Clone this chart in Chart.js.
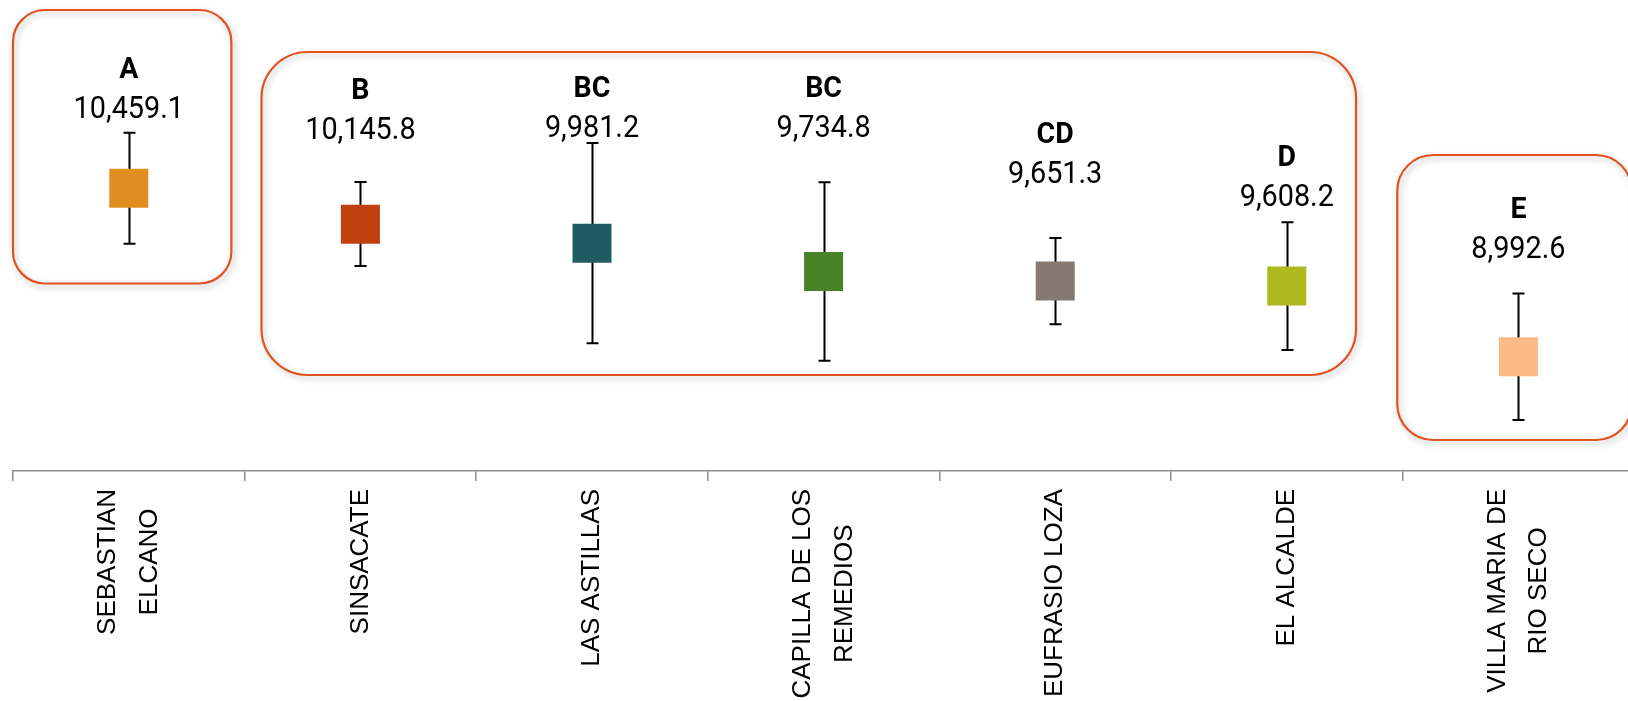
<!DOCTYPE html>
<html>
<head>
<meta charset="utf-8">
<script src="https://cdn.jsdelivr.net/npm/chart.js@4.4.1/dist/chart.umd.min.js"></script>
<style>
  html, body { margin: 0; padding: 0; background: #fff; overflow: hidden; }
  #wrap { position: relative; width: 1640px; height: 701px; }
</style>
</head>
<body>
<div id="wrap"><canvas id="chart-means"></canvas></div>
<script>
// ---- DATA ----
const categories = [
  ["SEBASTIAN", "ELCANO"],
  "SINSACATE",
  "LAS ASTILLAS",
  ["CAPILLA DE LOS", "REMEDIOS"],
  "EUFRASIO LOZA",
  "EL ALCALDE",
  ["VILLA MARIA DE", "RIO SECO"],
];
const means = [10459.1, 10145.8, 9981.2, 9734.8, 9651.3, 9608.2, 8992.6];
const upper = [10943, 10514, 10854, 10511, 10026, 10163, 9543];
const lower = [9977, 9782, 9109, 8958, 9275, 9051, 8441];
const groupLetters = ["A", "B", "BC", "BC", "CD", "D", "E"];

const colors = ["#e18d1f", "#c04010", "#1e5b63", "#478226", "#857a72", "#aeb81f", "#fbba86"];

// Рамки групп (индексы категорий / значения по оси Y)
const groupBoxes = [
  { x0: -0.5, x1: 0.443, y0: 12012, y1: 9630, r: 32 },
  { x0: 0.573, x1: 5.299, y0: 11646, y1: 8833, r: 46 },
  { x0: 5.477, x1: 6.49, y0: 10749, y1: 8267, r: 36 },
];
// расстояние от верхнего уса до подписи, px
const labelGap = [15, 43, 6, 45, 55, 16, 35];

const fmt = (v) => v.toLocaleString("en-US", { minimumFractionDigits: 1, maximumFractionDigits: 1 });

const boxesPlugin = {
  id: "groupBoxes",
  beforeDatasetsDraw(chart) {
    const { ctx, scales: { x, y } } = chart;
    ctx.save();
    groupBoxes.forEach((b) => {
      const left = x.getPixelForValue(b.x0);
      const right = x.getPixelForValue(b.x1);
      const top = y.getPixelForValue(b.y0);
      const bottom = y.getPixelForValue(b.y1);
      ctx.beginPath();
      ctx.roundRect(left, top, right - left, bottom - top, b.r);
      ctx.shadowColor = "rgba(0,0,0,0.28)";
      ctx.shadowBlur = 6;
      ctx.shadowOffsetX = 2;
      ctx.shadowOffsetY = 3;
      ctx.strokeStyle = "#e0531f";
      ctx.lineWidth = 2.2;
      ctx.stroke();
    });
    ctx.restore();
  },
};

const whiskersPlugin = {
  id: "whiskers",
  beforeDatasetsDraw(chart) {
    const { ctx, scales: { x, y } } = chart;
    ctx.save();
    ctx.strokeStyle = "#000";
    ctx.lineWidth = 2;
    means.forEach((m, i) => {
      const px = Math.round(x.getPixelForValue(i)) + 0.5;
      const yt = y.getPixelForValue(upper[i]);
      const yb = y.getPixelForValue(lower[i]);
      ctx.beginPath();
      ctx.moveTo(px, yt);
      ctx.lineTo(px, yb);
      ctx.moveTo(px - 6, yt);
      ctx.lineTo(px + 6, yt);
      ctx.moveTo(px - 6, yb);
      ctx.lineTo(px + 6, yb);
      ctx.stroke();
    });
    ctx.restore();
  },
};

const labelsPlugin = {
  id: "meanLabels",
  afterDatasetsDraw(chart) {
    const { ctx, scales: { x, y } } = chart;
    ctx.save();
    ctx.fillStyle = "#000";
    ctx.textAlign = "center";
    ctx.textBaseline = "alphabetic";
    means.forEach((m, i) => {
      const px = x.getPixelForValue(i);
      const base = y.getPixelForValue(upper[i]) - labelGap[i];
      // значение
      ctx.save();
      ctx.translate(px, base);
      ctx.scale(0.9, 1);
      ctx.font = "400 32px Roboto";
      ctx.fillText(fmt(m), 0, 0);
      ctx.restore();
      // буквы
      ctx.save();
      ctx.translate(px, base - 40);
      ctx.scale(0.95, 1);
      ctx.font = "700 30px Roboto";
      ctx.fillText(groupLetters[i], 0, 0);
      ctx.restore();
    });
    ctx.restore();
  },
};

// подписи оси: центр блока строк на делении, строки выровнены по центру
const centerTickLines = {
  id: "centerTickLines",
  beforeDraw(chart) {
    const scale = chart.scales.x;
    const items = scale.getLabelItems();
    const ctx = chart.ctx;
    items.forEach((item, i) => {
      if (item._centered) return;
      const lines = Array.isArray(item.label) ? item.label : [item.label];
      const lh = item.font.lineHeight;
      ctx.save();
      ctx.font = item.font.string;
      const maxW = Math.max(...lines.map((t) => ctx.measureText(t).width));
      ctx.restore();
      const p = scale.getPixelForTick(i);
      item.textOffset = 0;
      item.options.textBaseline = "middle";
      item.options.textAlign = "center";
      item.options.translation[0] = p - ((lines.length - 1) * lh) / 2;
      item.options.translation[1] += maxW / 2;
      item._centered = true;
    });
  },
};

new Chart(document.getElementById("chart-means"), {
  type: "line",
  data: {
    labels: categories,
    datasets: [
      {
        data: means,
        showLine: false,
        pointStyle: "rect",
        pointRadius: 27.6,
        pointHoverRadius: 27.6,
        pointBorderWidth: 0,
        pointBackgroundColor: colors,
        pointBorderColor: colors,
        clip: false,
      },
    ],
  },
  plugins: [boxesPlugin, whiskersPlugin, labelsPlugin, centerTickLines],
  options: {
    responsive: true,
    maintainAspectRatio: false,
    animation: false,
    events: [],
    layout: { autoPadding: false, padding: { left: 13, right: 5.8, top: 0, bottom: 0 } },
    plugins: { legend: { display: false }, tooltip: { enabled: false } },
    scales: {
      x: {
        type: "category",
        offset: true,
        afterFit(scale) {
          scale.height = 230;
        },
        border: { display: true, color: "#8c8c8c", width: 1.5 },
        grid: {
          offset: true,
          drawOnChartArea: false,
          drawTicks: true,
          tickLength: 10,
          color: "#8c8c8c",
          lineWidth: 1.5,
        },
        ticks: {
          autoSkip: false,
          minRotation: 90,
          maxRotation: 90,
          padding: 8,
          color: "#000",
          font: { family: "'Liberation Sans', Arial, sans-serif", size: 26, lineHeight: 1.6 },
        },
      },
      y: {
        type: "linear",
        display: false,
        min: 7997,
        max: 12099,
      },
    },
  },
});
</script>
</body>
</html>
